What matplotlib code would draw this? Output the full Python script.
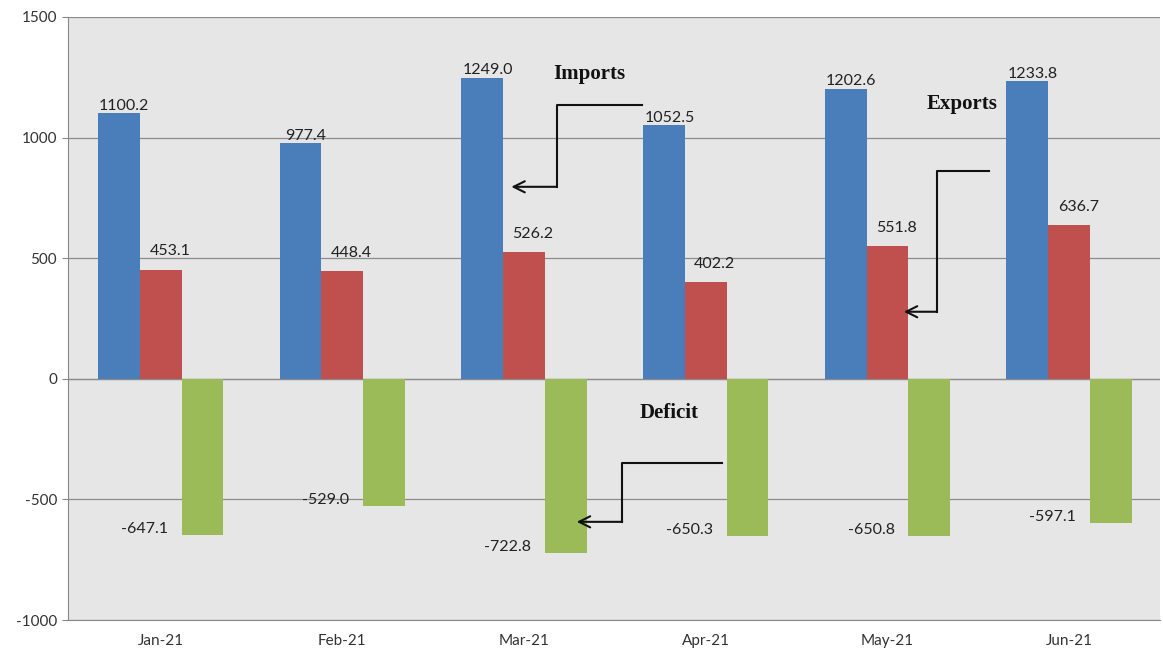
import matplotlib
matplotlib.use("Agg")
import matplotlib.pyplot as plt
import numpy as np

months = ["Jan-21", "Feb-21", "Mar-21", "Apr-21", "May-21", "Jun-21"]
imports = [1100.2, 977.4, 1249.0, 1052.5, 1202.6, 1233.8]
exports = [453.1, 448.4, 526.2, 402.2, 551.8, 636.7]
deficit = [-647.1, -529.0, -722.8, -650.3, -650.8, -597.1]
yticks = [-1000, -500, 0, 500, 1000, 1500]

BLUE = "#4a7ebb"
RED = "#c0504d"
GREEN = "#9bbb59"
BG = "#e6e6e6"

plt.rcParams["font.family"] = ["Lato", "DejaVu Sans"]

fig = plt.figure(figsize=(11.63, 6.56), dpi=100)
ax = fig.add_axes([68/1163, 1-620/656, (1160-68)/1163, (620-17)/656])
ax.set_facecolor(BG)

x = np.arange(len(months))
w = 0.23
ax.bar(x - w, imports, w, color=BLUE, zorder=3)
ax.bar(x, exports, w, color=RED, zorder=3)
ax.bar(x + w, deficit, w, color=GREEN, zorder=3)

ax.set_xlim(-0.51, 5.5)
ax.set_ylim(-1000, 1500)
ax.set_yticks(yticks)
ax.set_yticklabels([str(v) for v in yticks], fontsize=11, color="#333333")
ax.set_xticks(x)
ax.set_xticklabels(months, fontsize=11, color="#333333")
ax.tick_params(axis="x", length=0, pad=10)
ax.tick_params(axis="y", length=4, color="#888888", pad=4)
ax.grid(axis="y", color="#8c8c8c", linewidth=0.9, zorder=1)
for s in ["top", "right"]:
    ax.spines[s].set_visible(False)
ax.spines["left"].set_color("#888888")
ax.spines["bottom"].set_color("#888888")
ax.axhline(0, color="#8c8c8c", linewidth=0.9, zorder=2)

lblkw = dict(fontsize=11.5, color="#222222", zorder=5)
# imports labels (sitting on the bar top)
for i, v in enumerate(imports):
    ax.text(i - w + 0.03, v + 30, f"{v:.1f}", ha="center", va="center", **lblkw)
# exports labels (above, slightly right)
for i, v in enumerate(exports):
    ax.text(i + 0.05, v + 75, f"{v:.1f}", ha="center", va="center", **lblkw)
# deficit labels (left of bar, near bottom)
for i, v in enumerate(deficit):
    ax.text(i + w - 0.32, v + 25, f"{v:.1f}", ha="center", va="center", **lblkw)

serif = dict(fontsize=15, fontweight="bold", family=["Liberation Serif", "DejaVu Serif"],
             color="#111111", ha="center", va="center", zorder=6)
ax.text(2.36, 1265, "Imports", **serif)
ax.text(4.41, 1140, "Exports", **serif)
ax.text(2.80, -141, "Deficit", **serif)

def elbow(x0, y0, x1, y1, x2):
    ax.plot([x0, x1, x1], [y0, y0, y1], color="#111111", lw=1.5, zorder=6)
    ax.annotate("", xy=(x2, y1), xytext=(x1, y1),
                arrowprops=dict(arrowstyle="->", color="#111111", lw=1.5,
                                mutation_scale=20, shrinkA=0, shrinkB=0), zorder=6)

elbow(2.65, 1136, 2.18, 796, 1.93)
elbow(4.56, 862, 4.27, 278, 4.09)
elbow(3.09, -348, 2.54, -593, 2.29)

fig.savefig("out.png", dpi=100, facecolor="white")
